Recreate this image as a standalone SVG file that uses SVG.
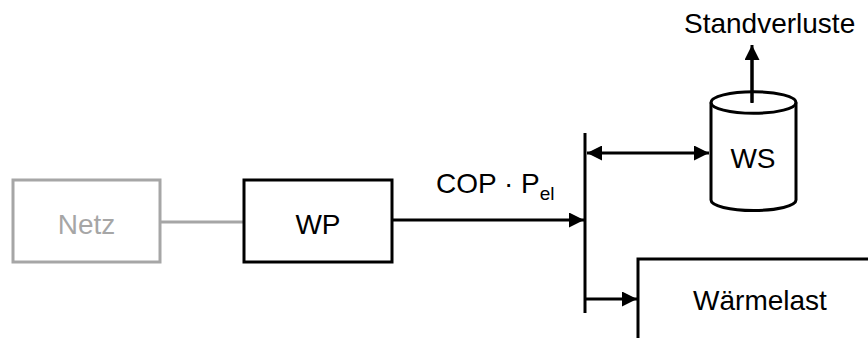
<svg xmlns="http://www.w3.org/2000/svg" width="868" height="338" viewBox="0 0 868 338">
<style>
text{font-family:"Liberation Sans",Arial,sans-serif;font-size:28px;fill:#000}
.box{fill:#fff;stroke:#000;stroke-width:3}
.grey{stroke:#a6a6a6}
.ln{stroke:#000;stroke-width:3;fill:none}
</style>
<defs>
<marker id="ah" viewBox="0 0 10 10" refX="10" refY="5" markerWidth="5" markerHeight="5" orient="auto-start-reverse" markerUnits="strokeWidth">
<path d="M0,0 L10,5 L0,10 z" fill="#000"/>
</marker>
</defs>
<g id="connectors">
<line x1="161" y1="222" x2="243" y2="222" stroke="#a6a6a6" stroke-width="3"/>
<line class="ln" x1="392" y1="220" x2="584" y2="220" marker-end="url(#ah)"/>
<line class="ln" x1="585" y1="133" x2="585" y2="313"/>
<line class="ln" x1="587" y1="153" x2="709" y2="153" marker-start="url(#ah)" marker-end="url(#ah)"/>
<line class="ln" x1="585" y1="299" x2="637" y2="299" marker-end="url(#ah)"/>
<line class="ln" x1="752" y1="103" x2="752" y2="45" marker-end="url(#ah)"/>
<text x="436" y="193">COP · P<tspan font-size="19" dy="7">el</tspan></text>
<text x="684" y="33">Standverluste</text>
</g>
<g id="netz">
<rect class="box grey" x="13" y="180" width="147" height="82"/>
<text x="86.5" y="234" text-anchor="middle" fill="#a6a6a6" style="fill:#a6a6a6">Netz</text>
</g>
<g id="wp">
<rect class="box" x="244" y="180" width="148" height="82"/>
<text x="318" y="234" text-anchor="middle">WP</text>
</g>
<g id="ws">
<path class="box" d="M711,102.5 V200 A42.5,10.5 0 0 0 796,200 V102.5"/>
<ellipse class="box" cx="753.5" cy="102.5" rx="42.5" ry="10.8" fill="none" style="fill:none"/>
<line class="ln" x1="752" y1="103" x2="752" y2="60"/>
<text x="753" y="168" text-anchor="middle">WS</text>
</g>
<g id="waermelast">
<path class="ln" d="M638,340 V259 H870"/>
<text x="760" y="310" text-anchor="middle">Wärmelast</text>
</g>
</svg>
